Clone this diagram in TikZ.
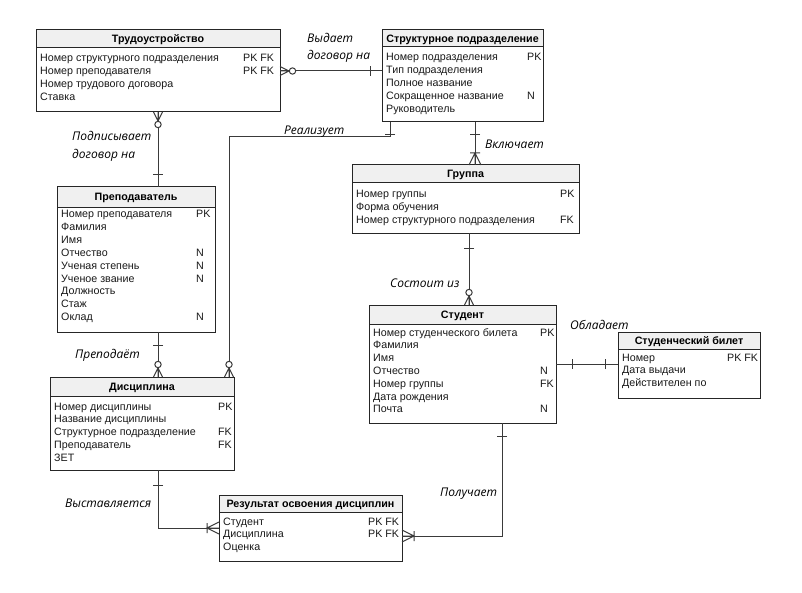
\documentclass[tikz,border=0pt]{standalone}
\usepackage{fontspec}
\setmainfont{Liberation Sans}
\newfontfamily\lblfont{Open Sans}
\usetikzlibrary{calc}
\definecolor{hdrgray}{HTML}{F0F0F0}
\definecolor{linegray}{HTML}{3A3A3A}
\tikzset{
 entbox/.style={inner sep=0, outer sep=0},
 entline/.style={draw=black!85, line width=1bp},
 hdrfill/.style={fill=hdrgray},
 ttl/.style={font=\fontsize{10.7bp}{12bp}\selectfont\bfseries, inner sep=0},
 attr/.style={font=\fontsize{10.7bp}{12bp}\selectfont, inner sep=0, text=black!90},
 lbl/.style={font=\lblfont\itshape\fontsize{12bp}{14bp}\selectfont, inner sep=0},
 conn/.style={draw=linegray, line width=1bp},
 pics/zmany/.style={code={\draw[conn] (0,-4.5)--(9,0)--(0,4.5) (0,0)--(9,0); \draw[conn, fill=white] (12.5,0) circle[radius=3.2bp];}},
 pics/omany/.style={code={\draw[conn] (0,-6)--(12,0)--(0,6) (0,0)--(12,0) (12,-5)--(12,5);}},
 pics/one/.style={code={\draw[conn] (#1,-5)--(#1,5);}},
}
\newcommand\entity[7]{%
 \node[entbox, minimum width=#4bp, minimum height=#5bp, anchor=north west] (#1) at (#2,#3) {};
 \fill[hdrfill] (#1.north west) rectangle ([yshift=-#6bp]#1.north east);
 \draw[entline] ([yshift=-#6bp]#1.north west) -- ([yshift=-#6bp]#1.north east);
 \draw[entline] (#1.north west) rectangle (#1.south east);
 \node[ttl, anchor=base] (#1-t) at ([yshift={-(#6*0.5+4)*1bp}]#1.north) {#7};
}
\newcommand\attrs[5]{%
 \foreach \t/\k [count=\i] in {#5} {
   \node[attr, anchor=base west] (#1-a\i) at (#2, #4+12.8*\i-12.8) {\t};
   \node[attr, anchor=base west] (#1-k\i) at (#3, #4+12.8*\i-12.8) {\k};
 }}
\begin{document}
\begin{tikzpicture}[x=1bp,y=-1bp]
\fill[white] (0,0) rectangle (802,593);
\useasboundingbox (0,0) rectangle (802,593);

\entity{trud}{36}{30}{244}{82}{18}{Трудоустройство}
\attrs{trud}{40}{243}{62}{Номер структурного подразделения/PK FK, Номер преподавателя/PK FK, Номер трудового договора/{}, Ставка/{}}

\entity{struct}{382}{30}{161}{92}{17}{Структурное подразделение}
\attrs{struct}{386}{527}{61}{Номер подразделения/PK, Тип подразделения/{}, Полное название/{}, Сокращенное название/N, Руководитель/{}}

\entity{group}{352}{165}{227}{68}{18}{Группа}
\attrs{group}{356}{560}{198}{Номер группы/PK, Форма обучения/{}, Номер структурного подразделения/FK}

\entity{prep}{57}{187}{158}{145}{20}{Преподаватель}
\attrs{prep}{61}{196}{218}{Номер преподавателя/PK, Фамилия/{}, Имя/{}, Отчество/N, Ученая степень/N, Ученое звание/N, Должность/{}, Стаж/{}, Оклад/N}

\entity{student}{369}{305}{187}{118}{19}{Студент}
\attrs{student}{373}{540}{336}{Номер студенческого билета/PK, Фамилия/{}, Имя/{}, Отчество/N, Номер группы/FK, Дата рождения/{}, Почта/N}

\entity{bilet}{618}{332}{142}{66}{17}{Студенческий билет}
\attrs{bilet}{622}{727}{361}{Номер/PK FK, Дата выдачи/{}, Действителен по/{}}

\entity{disc}{50}{377}{184}{93}{19}{Дисциплина}
\attrs{disc}{54}{218}{410}{Номер дисциплины/PK, Название дисциплины/{}, Структурное подразделение/FK, Преподаватель/FK, ЗЕТ/{}}

\entity{result}{219}{495}{183}{66}{17}{Результат освоения дисциплин}
\attrs{result}{223}{368}{525}{Студент/PK FK, Дисциплина/PK FK, Оценка/{}}

% 1 Выдает договор на
\draw[conn] (trud.east) -- (trud.east -| struct.west);
\path (trud.east) pic{zmany};
\path (trud.east -| struct.west) pic[rotate=180]{one=12};
% 2 Подписывает договор на
\draw[conn] (trud.south) -- (trud.south |- prep.north);
\path (trud.south) pic[rotate=-90]{zmany};
\path (trud.south |- prep.north) pic[rotate=90]{one=12};
% 3 Реализует
\coordinate (c3) at ([xshift=8bp]struct.south west);
\coordinate (c3e) at ([xshift=-5bp]disc.north east);
\draw[conn] (c3) -- ++(0,15) -| (c3e);
\path (c3) pic[rotate=-90]{one=13};
\path (c3e) pic[rotate=90]{zmany};
% 4 Включает
\coordinate (c4) at ([xshift=93bp]struct.south west);
\draw[conn] (c4) -- (c4 |- group.north);
\path (c4) pic[rotate=-90]{one=13};
\path (c4 |- group.north) pic[rotate=90]{omany};
% 5 Состоит из
\coordinate (c5) at ([xshift=117bp]group.south west);
\draw[conn] (c5) -- (c5 |- student.north);
\path (c5) pic[rotate=-90]{one=15};
\path (c5 |- student.north) pic[rotate=90]{zmany};
% 6 Преподаёт
\draw[conn] (trud.south |- prep.south) -- (trud.south |- disc.north);
\path (trud.south |- prep.south) pic[rotate=-90]{one=13};
\path (trud.south |- disc.north) pic[rotate=90]{zmany};
% 7 Обладает
\draw[conn] (student.east) -- (student.east -| bilet.west);
\path (student.east) pic{one=16};
\path (student.east -| bilet.west) pic[rotate=180]{one=13};
% 8 Выставляется
\draw[conn] (trud.south |- disc.south) |- (result.west);
\path (trud.south |- disc.south) pic[rotate=-90]{one=15};
\path (result.west) pic[rotate=180]{omany};
% 9 Получает
\coordinate (c9) at ([xshift=133bp]student.south west);
\coordinate (c9e) at ([yshift=-8bp]result.east);
\draw[conn] (c9) |- (c9e);
\path (c9) pic[rotate=-90]{one=13};
\path (c9e) pic{omany};

% labels
\node[lbl, anchor=base west] (l1) at (307,43) {Выдает};
\node[lbl, anchor=base west] (l1b) at (307,60) {договор на};
\node[lbl, anchor=base west] (l2) at (72,141) {Подписывает};
\node[lbl, anchor=base west] (l2b) at (72,159) {договор на};
\node[lbl, anchor=base west] (l3) at (284,135) {Реализует};
\node[lbl, anchor=base west] (l4) at (485,149) {Включает};
\node[lbl, anchor=base west] (l5) at (390,287) {Состоит из};
\node[lbl, anchor=base west] (l6) at (75,358) {Преподаёт};
\node[lbl, anchor=base west] (l7) at (570,329) {Обладает};
\node[lbl, anchor=base west] (l8) at (65,507) {Выставляется};
\node[lbl, anchor=base west] (l9) at (440,496) {Получает};
\end{tikzpicture}
\end{document}
